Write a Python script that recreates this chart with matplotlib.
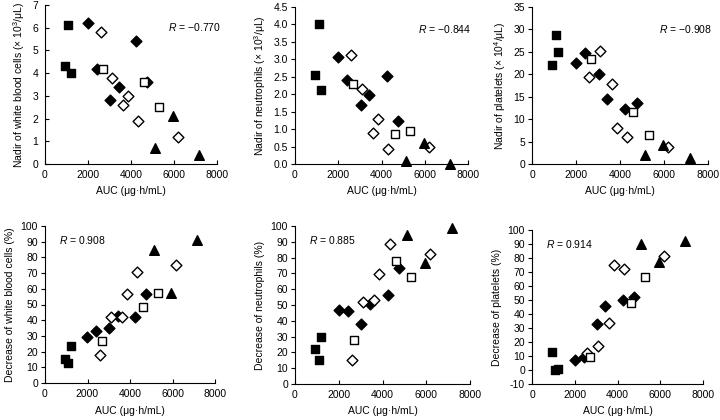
import numpy as np
import matplotlib
matplotlib.use('Agg')
import matplotlib.pyplot as plt

plt.rcParams['font.family'] = ['Liberation Sans', 'DejaVu Sans']
plt.rcParams['font.size'] = 7.5
plt.rcParams['mathtext.fontset'] = 'custom'
plt.rcParams['mathtext.rm'] = 'Liberation Sans'
plt.rcParams['mathtext.it'] = 'Liberation Sans:italic'

# AUC (ug.h/mL) per group
auc_fs = [930, 1090, 1200]                          # filled squares
auc_fd = [1990, 2410, 3030, 3420, 4240, 4750]       # filled diamonds
auc_od = [2590, 3100, 3620, 3850, 4320, 6180]       # open diamonds
auc_os = [2700, 4610, 5300]                         # open squares
auc_tr = [5120, 5950, 7160]                         # triangles

# nadir of white blood cells (x 10^3/uL)
wbc_fs = [4.3, 6.1, 4.0]
wbc_fd = [6.2, 4.2, 2.8, 3.4, 5.4, 3.6]
wbc_od = [5.8, 3.8, 2.6, 3.0, 1.9, 1.2]
wbc_os = [4.2, 3.6, 2.5]
wbc_tr = [0.7, 2.1, 0.4]

# nadir of neutrophils (x 10^3/uL)
neu_fs = [2.55, 4.0, 2.12]
neu_fd = [3.08, 2.42, 1.68, 1.97, 2.52, 1.22]
neu_od = [3.12, 2.15, 0.9, 1.3, 0.42, 0.5]
neu_os = [2.3, 0.85, 0.95]
neu_tr = [0.1, 0.6, 0.0]

# nadir of platelets (x 10^4/uL)
plt_fs = [22.1, 28.7, 25.0]
plt_fd = [22.5, 24.8, 20.1, 14.5, 12.2, 13.7]
plt_od = [19.5, 25.2, 17.9, 8.1, 6.1, 3.9]
plt_os = [23.5, 11.5, 6.5]
plt_tr = [1.9, 4.2, 1.3]

# decrease of white blood cells (%)
dwbc_fs = [15.5, 13, 23.5]
dwbc_fd = [29.5, 33, 35, 42.5, 42, 56.5]
dwbc_od = [18, 42, 42, 57, 70.5, 75]
dwbc_os = [26.5, 48.5, 57.5]
dwbc_tr = [85, 57.5, 91]

# decrease of neutrophils (%)
dneu_fs = [22, 15.5, 30]
dneu_fd = [47, 46.5, 38, 50.5, 56.5, 73.5]
dneu_od = [15, 52, 53, 69.5, 88.5, 82]
dneu_os = [28, 78, 67.5]
dneu_tr = [94.5, 76.5, 99]

# decrease of platelets (%)
dplt_fs = [13, 0, 1]
dplt_fd = [7.5, 9.5, 33, 46, 50, 52.5]
dplt_od = [12.5, 17, 33.5, 75, 72, 81.5]
dplt_os = [9.5, 48, 66.5]
dplt_tr = [90, 77, 92.5]

panels = [
    ('Nadir of white blood cells (× 10$^{3}$/μL)', [wbc_fs, wbc_fd, wbc_od, wbc_os, wbc_tr],
     np.arange(0, 8, 1), '%d', 'R = −0.770', 'ur'),
    ('Nadir of neutrophils (× 10$^{3}$/μL)', [neu_fs, neu_fd, neu_od, neu_os, neu_tr],
     np.arange(0, 5, 0.5), '%.1f', 'R = −0.844', 'ur'),
    ('Nadir of platelets (× 10$^{4}$/μL)', [plt_fs, plt_fd, plt_od, plt_os, plt_tr],
     np.arange(0, 36, 5), '%d', 'R = −0.908', 'ur'),
    ('Decrease of white blood cells (%)', [dwbc_fs, dwbc_fd, dwbc_od, dwbc_os, dwbc_tr],
     np.arange(0, 101, 10), '%d', 'R = 0.908', 'ul'),
    ('Decrease of neutrophils (%)', [dneu_fs, dneu_fd, dneu_od, dneu_os, dneu_tr],
     np.arange(0, 101, 10), '%d', 'R = 0.885', 'ul'),
    ('Decrease of platelets (%)', [dplt_fs, dplt_fd, dplt_od, dplt_os, dplt_tr],
     np.arange(-10, 101, 10), '%d', 'R = 0.914', 'ul'),
]

# axes rectangles in pixels: left, right, top, bottom
rects = [(45, 217, 5, 164), (295, 468, 7, 164), (532, 708, 7, 164),
         (45, 215, 226, 383), (295, 470, 226, 384), (532, 703, 230, 384)]

W, H = 720, 420
fig = plt.figure(figsize=(7.2, 4.2), dpi=100)

aucs = [auc_fs, auc_fd, auc_od, auc_os, auc_tr]
styles = [dict(marker='s', s=40, c='black', edgecolors='black'),
          dict(marker='D', s=30, c='black', edgecolors='black'),
          dict(marker='D', s=30, c='white', edgecolors='black', linewidths=1.0),
          dict(marker='s', s=40, c='white', edgecolors='black', linewidths=1.0),
          dict(marker='^', s=48, c='black', edgecolors='black')]

for i, ((ylab, ys, yt, fmt, rtxt, pos), (l, r, t, b)) in enumerate(zip(panels, rects)):
    ax = fig.add_axes([l / W, 1 - b / H, (r - l) / W, (b - t) / H])
    for x, y, st in zip(aucs, ys, styles):
        ax.scatter(x, y, zorder=3, clip_on=False, **st)
    ax.set_xlim(0, 8000)
    ax.set_ylim(yt[0], yt[-1])
    ax.set_xticks([0, 2000, 4000, 6000, 8000])
    ax.set_yticks(yt)
    ax.set_yticklabels([fmt % v for v in yt])
    ax.spines['top'].set_visible(False)
    ax.spines['right'].set_visible(False)
    ax.spines['left'].set_linewidth(0.8)
    ax.spines['bottom'].set_linewidth(0.8)
    ax.tick_params(axis='x', direction='in', length=3, width=0.8, pad=4, labelsize=7.5)
    ax.tick_params(axis='y', direction='in' if i == 0 else 'out', length=3, width=0.8,
                   pad=5 if i == 0 else 2, labelsize=7.5)
    ax.set_xlabel('AUC (μg·h/mL)', fontsize=7.5, labelpad=5)
    ax.set_ylabel(ylab, fontsize=7.5, labelpad=4)
    label = '$R$' + rtxt[1:]
    if pos == 'ur':
        ax.text(1.02, 0.86, label, transform=ax.transAxes, ha='right', va='center', fontsize=7.5)
    else:
        ax.text(0.08, 0.91, label, transform=ax.transAxes, ha='left', va='center', fontsize=7.5)

fig.savefig('out.png', dpi=100)
